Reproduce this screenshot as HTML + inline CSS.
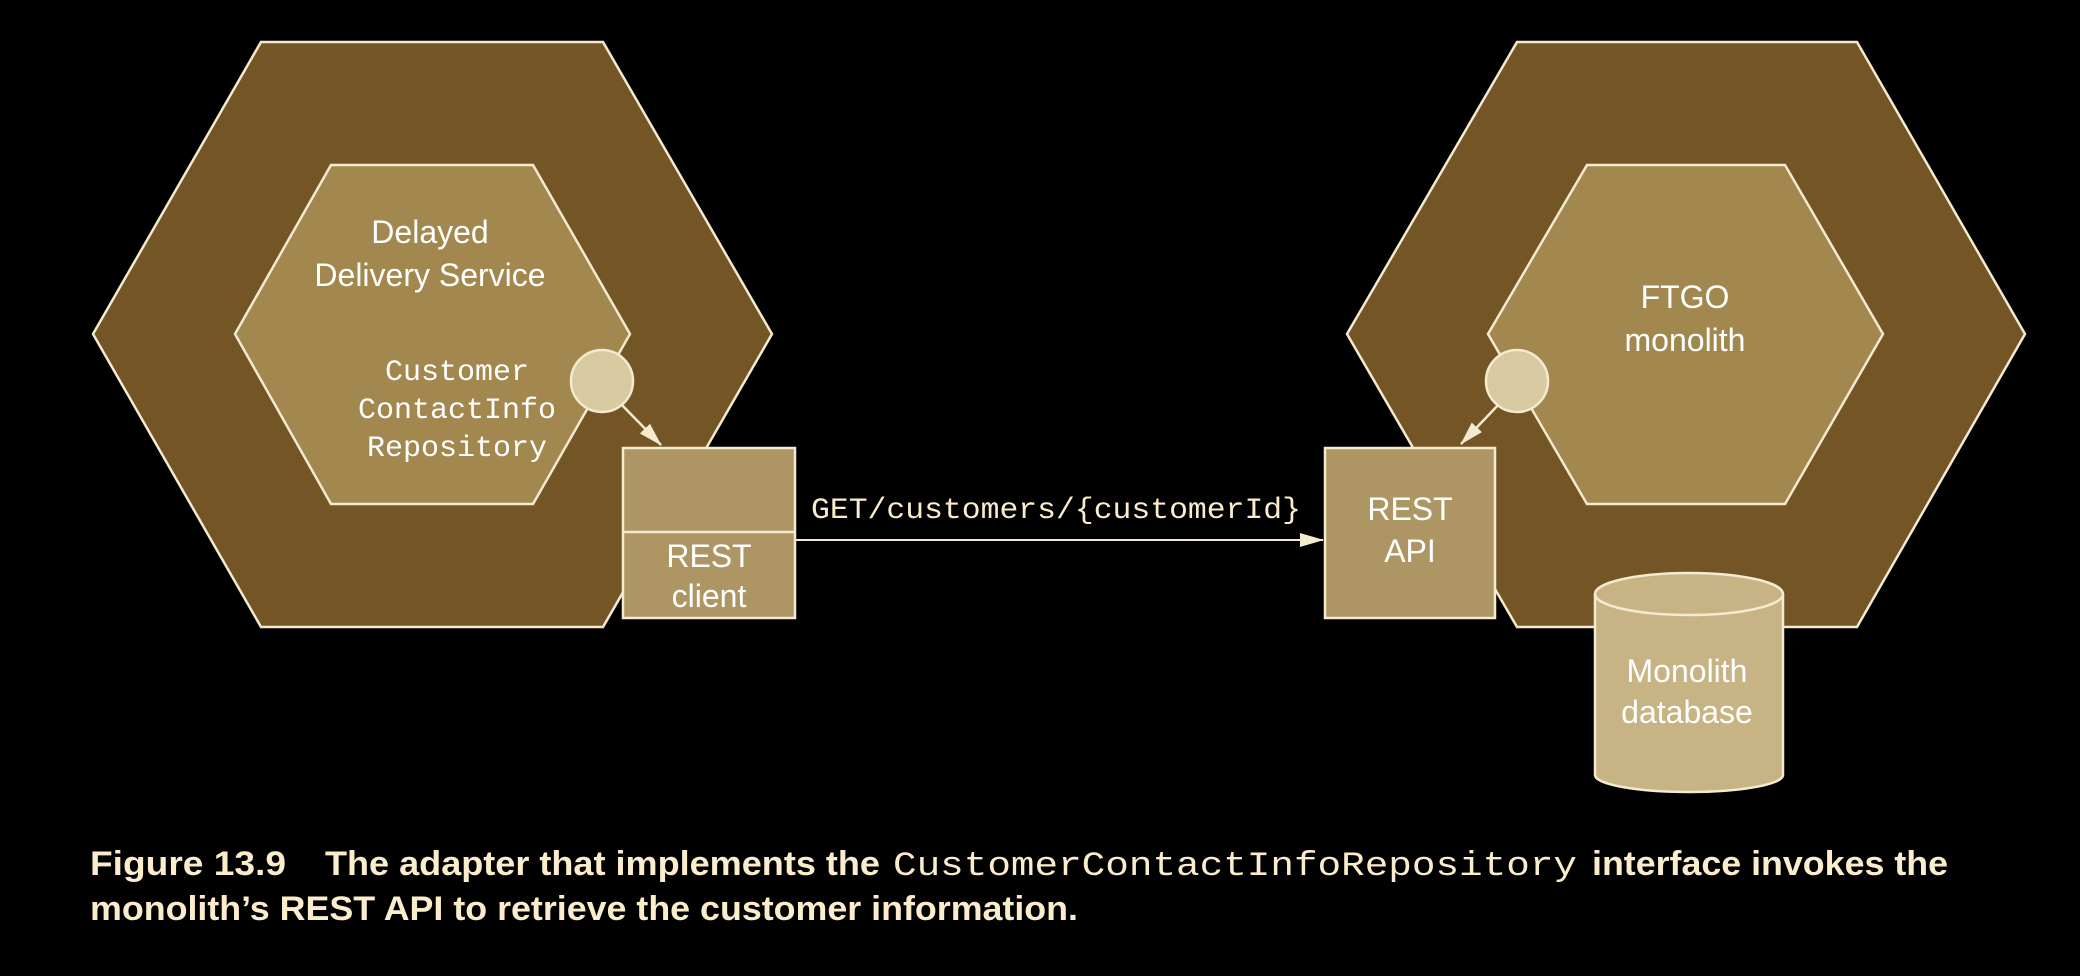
<!DOCTYPE html>
<html><head><meta charset="utf-8"><style>
html,body{margin:0;padding:0;background:#000;}
svg{display:block;}
.s{font-family:"Liberation Sans",sans-serif;fill:#fff;font-size:32px;text-anchor:middle;}
.m{font-family:"Liberation Mono",monospace;fill:#fff;font-size:30px;text-anchor:middle;}
.c{font-family:"Liberation Sans",sans-serif;font-weight:bold;fill:#fbeccb;font-size:34px;}
.cm{font-family:"Liberation Mono",monospace;fill:#fbeccb;font-size:34px;}
</style></head><body>
<svg width="2080" height="976" viewBox="0 0 2080 976" xmlns="http://www.w3.org/2000/svg">
<defs>
<marker id="ah2" markerWidth="24" markerHeight="14" refX="23" refY="7" orient="auto" markerUnits="userSpaceOnUse">
<path d="M0,0 L24,7 L0,14 z" fill="#f4ead0"/>
</marker>
</defs>
<!-- Left -->
<polygon points="261,42 603,42 772,334 603,627 261,627 93,334" fill="#745626" stroke="#f4ead0" stroke-width="2.5"/>
<polygon points="331,165 533,165 630,334 533,504 331,504 235,334" fill="#a2874f" stroke="#f4ead0" stroke-width="2.5"/>
<text class="s" x="430" y="243">Delayed</text>
<text class="s" x="430" y="286">Delivery Service</text>
<text class="m" x="457" y="380">Customer</text>
<text class="m" x="457" y="418">ContactInfo</text>
<text class="m" x="457" y="456">Repository</text>
<rect x="623" y="448" width="172" height="170" fill="#ad9663" stroke="#f4ead0" stroke-width="2.5"/>
<line x1="623" y1="532" x2="795" y2="532" stroke="#f4ead0" stroke-width="2.5"/>
<text class="s" x="709" y="567">REST</text>
<text class="s" x="709" y="607">client</text>
<line x1="619" y1="402" x2="661" y2="445" stroke="#f4ead0" stroke-width="2.5" marker-end="url(#ah2)"/>
<circle cx="602" cy="381" r="31" fill="#d8c9a0" stroke="#f4ead0" stroke-width="2.5"/>
<!-- connector -->
<line x1="795" y1="540" x2="1323" y2="540" stroke="#f4ead0" stroke-width="2" marker-end="url(#ah2)"/>
<text class="m" x="1056" y="518" style="fill:#fbeccb" textLength="490" lengthAdjust="spacingAndGlyphs">GET/customers/{customerId}</text>
<!-- Right -->
<polygon points="1517,42 1857,42 2025,334 1857,627 1517,627 1347,334" fill="#745626" stroke="#f4ead0" stroke-width="2.5"/>
<polygon points="1587,165 1785,165 1883,334 1785,504 1587,504 1488,334" fill="#a2874f" stroke="#f4ead0" stroke-width="2.5"/>
<text class="s" x="1685" y="308">FTGO</text>
<text class="s" x="1685" y="351">monolith</text>
<rect x="1325" y="448" width="170" height="170" fill="#ad9663" stroke="#f4ead0" stroke-width="2.5"/>
<text class="s" x="1410" y="520">REST</text>
<text class="s" x="1410" y="562">API</text>
<line x1="1500" y1="403" x2="1461" y2="444" stroke="#f4ead0" stroke-width="2.5" marker-end="url(#ah2)"/>
<circle cx="1517" cy="381" r="31" fill="#d8c9a0" stroke="#f4ead0" stroke-width="2.5"/>
<!-- Cylinder -->
<path d="M1595,594 L1595,775 A94,17 0 0 0 1783,775 L1783,594" fill="#c7b383" stroke="#f4ead0" stroke-width="2.5"/>
<ellipse cx="1689" cy="594" rx="94" ry="21" fill="#c7b383" stroke="#f4ead0" stroke-width="2.5"/>
<text class="s" x="1687" y="682">Monolith</text>
<text class="s" x="1687" y="723">database</text>
<!-- Caption -->
<text class="c" x="90" y="875" textLength="196" lengthAdjust="spacingAndGlyphs">Figure 13.9</text>
<text class="c" x="325" y="875" textLength="555" lengthAdjust="spacingAndGlyphs">The adapter that implements the</text>
<text class="cm" x="893" y="875" textLength="684" lengthAdjust="spacingAndGlyphs">CustomerContactInfoRepository</text>
<text class="c" x="1592" y="875" textLength="356" lengthAdjust="spacingAndGlyphs">interface invokes the</text>
<text class="c" x="90" y="920" textLength="988" lengthAdjust="spacingAndGlyphs">monolith’s REST API to retrieve the customer information.</text>
</svg>
</body></html>
